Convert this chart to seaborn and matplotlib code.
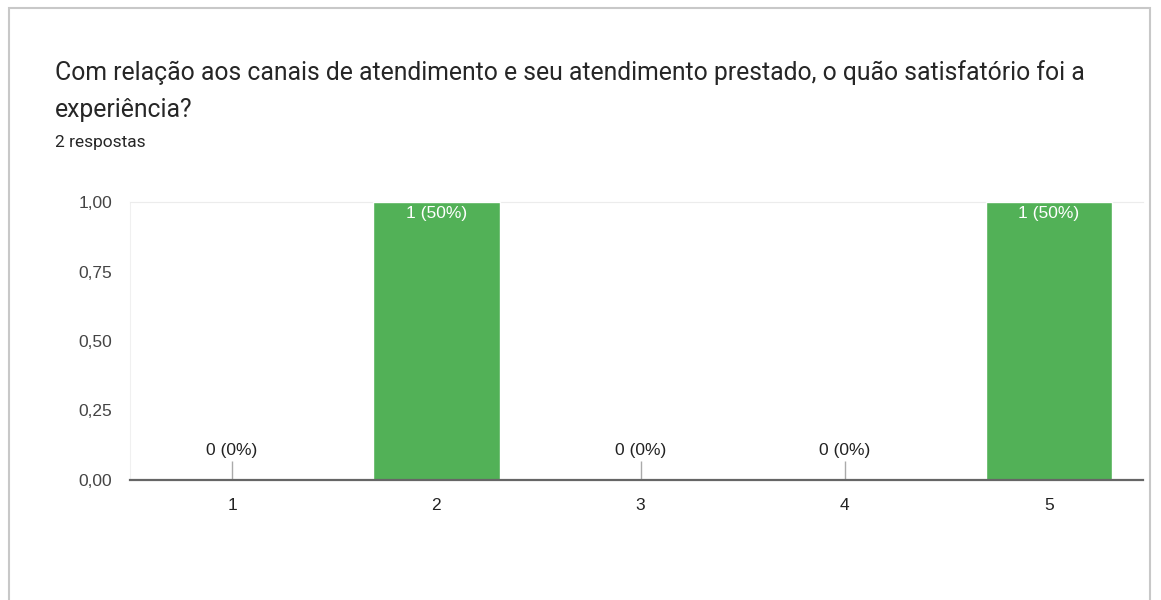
# Google Forms style bar chart: satisfaction with service channels
import matplotlib
matplotlib.use("Agg")
import matplotlib.pyplot as plt
import seaborn as sb
import pandas as pd
from matplotlib.patches import Rectangle

# data
notas = ["1", "2", "3", "4", "5"]
respostas = [0, 1, 0, 0, 1]
percentuais = [0, 50, 0, 0, 50]
yticks = [0, 0.25, 0.5, 0.75, 1.0]
ytick_labels = ["0,00", "0,25", "0,50", "0,75", "1,00"]

df = pd.DataFrame({"nota": notas, "respostas": respostas})

sb.set_style("white")
plt.rcParams["font.family"] = ["Roboto", "DejaVu Sans"]
arial = ["Liberation Sans", "DejaVu Sans"]

fig = plt.figure(figsize=(11.61, 6.0), dpi=100)
fig.patch.set_facecolor("white")

# card frame
card = Rectangle((9 / 1161, -0.02), 1141 / 1161, 1 - 8 / 600 + 0.02,
                 transform=fig.transFigure, facecolor="white",
                 edgecolor="#c8c8c8", linewidth=1.5, zorder=-5)
fig.patches.append(card)

fig.text(55 / 1161, 1 - 73 / 600,
         "Com relação aos canais de atendimento e seu atendimento prestado, o quão satisfatório foi a",
         fontsize=17.8, color="#262626", va="center", ha="left")
fig.text(55 / 1161, 1 - 110 / 600, "experiência?",
         fontsize=17.8, color="#262626", va="center", ha="left")
fig.text(55 / 1161, 1 - 142 / 600, "2 respostas",
         fontsize=12.5, color="#262626", va="center", ha="left")

ax = fig.add_axes([130 / 1161, 0.2, 1013 / 1161, 278 / 600])
ax.patch.set_alpha(0)
sb.barplot(data=df, x="nota", y="respostas", color="#52b157", width=0.62,
           saturation=1, ax=ax, zorder=3)

ax.set_xlim(-0.5, 4.46)
ax.set_ylim(0, 1.0)
ax.set_yticks(yticks)
ax.set_yticklabels(ytick_labels, family=arial)
ax.set_xticks(range(len(notas)))
ax.set_xticklabels(notas, family=arial)
ax.set_xlabel("")
ax.set_ylabel("")
ax.tick_params(axis="y", length=0, pad=13, labelsize=12.5, labelcolor="#444444")
ax.tick_params(axis="x", length=0, pad=13, labelsize=12.5, labelcolor="#222222")

ax.spines["right"].set_visible(False)
ax.spines["top"].set_color("#ececec")
ax.spines["left"].set_color("#f0f0f0")
ax.spines["bottom"].set_color("#666666")
ax.spines["bottom"].set_linewidth(1.6)
ax.spines["bottom"].set_zorder(5)

for i, (n, p) in enumerate(zip(respostas, percentuais)):
    label = f"{n} ({p}%)"
    if n == 0:
        ax.vlines(i, 0, 0.068, color="#aaaaaa", linewidth=1, zorder=4)
        ax.text(i, 0.08, label, ha="center", va="bottom", family=arial,
                fontsize=12.5, color="#222222")
    else:
        ax.text(i, n - 0.015, label, ha="center", va="top", family=arial,
                fontsize=12.5, color="white", zorder=6)

fig.savefig("out.png", dpi=100)
